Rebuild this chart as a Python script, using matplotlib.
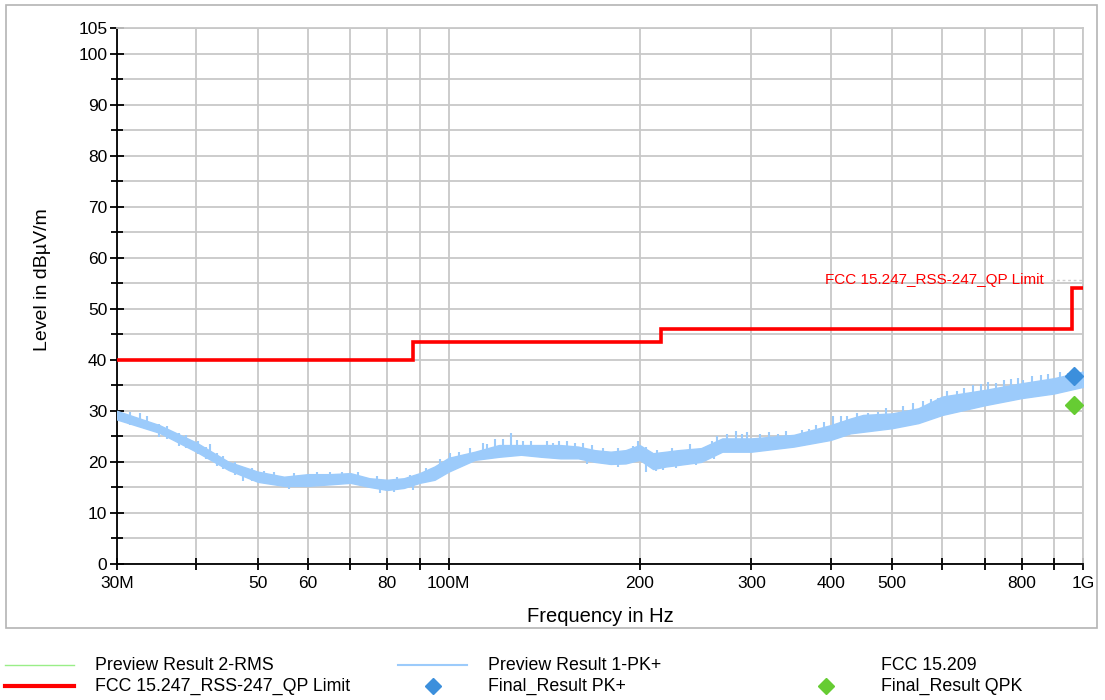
import numpy as np
import matplotlib
matplotlib.use("Agg")
import matplotlib.pyplot as plt
from matplotlib.lines import Line2D
from matplotlib.patches import Rectangle
from matplotlib.ticker import FixedLocator, FixedFormatter, NullLocator

plt.rcParams["font.family"] = ["Liberation Sans", "DejaVu Sans"]

# --- dados do ensaio (frequencia em MHz, nivel em dBuV/m) ---
# envoltoria do trace "Preview Result 1-PK+"
pk_freq = [30, 35, 40, 45, 50, 55, 60, 65, 70, 75, 80, 85, 90, 95, 100,
           110, 120, 130, 140, 150, 160, 170, 180, 190, 200, 210, 220, 230,
           250, 270, 300, 350, 400, 430, 450, 500, 550, 600, 700, 800, 900, 1000]
pk_min = [28.3, 25.7, 22.0, 18.4, 16.1, 15.3, 15.3, 15.6, 15.9, 15.1, 14.5, 14.9,
          15.9, 16.5, 18.1, 20.4, 21.0, 21.4, 21.0, 20.7, 20.7, 20.0, 19.6, 19.7,
          20.4, 18.6, 19.1, 19.4, 20.0, 22.0, 22.0, 23.0, 24.3, 25.6, 25.9, 26.6,
          27.6, 29.2, 31.1, 32.5, 33.4, 34.7]
pk_max = [30.0, 27.2, 23.8, 20.0, 18.1, 17.1, 17.6, 17.6, 17.8, 16.8, 16.5, 16.8,
          17.8, 19.1, 20.8, 22.0, 23.3, 23.3, 23.3, 23.3, 23.0, 22.3, 22.0, 22.3,
          23.3, 21.7, 22.0, 22.3, 22.7, 24.6, 24.6, 25.3, 27.2, 28.5, 29.2, 29.5,
          30.5, 32.8, 34.1, 35.4, 36.4, 37.7]

# picos do trace PK+ acima da envoltoria
spike_freq = [31.5, 32.6, 33.5, 34.9, 36, 37.6, 38.5, 40.2, 41.5, 43.2, 44, 46,
              47.4, 49, 51.2, 53, 57, 62, 65, 68.0, 72, 77, 83, 87, 92, 97,
              100.5, 104, 108, 113.3, 115, 118.5, 122, 125.2, 128, 131, 135,
              143, 146, 149.4, 153.4, 158, 163, 168, 175, 185, 195, 199, 205,
              213, 225, 240, 260, 265, 275, 283.7, 290, 295.6, 310, 320, 330,
              340, 360, 370, 380, 390, 404, 415, 425, 440, 458.7, 475.7, 490,
              520, 540, 560, 575, 590, 610, 632, 650, 670, 690, 707.7, 730,
              750, 770, 790, 805, 830, 860, 880, 920, 948, 980]
spike_top = [29.8, 29.6, 29.0, 27.4, 27.0, 25.6, 25.3, 24.0, 23.0, 21.7, 21.2,
             20.0, 18.7, 18.8, 18.3, 18.0, 17.8, 18.0, 18.0, 18.1, 18.0, 17.2,
             17.0, 17.5, 18.8, 20.5, 21.7, 22.0, 22.8, 23.8, 23.5, 24.4, 24.5,
             25.6, 24.2, 24.0, 24.0, 24.0, 23.8, 24.0, 24.0, 23.8, 23.8, 23.3,
             22.8, 22.8, 23.2, 24.0, 23.0, 22.3, 22.8, 23.5, 24.0, 25.0, 25.5,
             26.1, 25.5, 25.9, 25.5, 25.8, 25.5, 26.0, 26.3, 26.5, 27.3, 27.8,
             28.9, 29.0, 29.0, 29.5, 29.5, 29.8, 30.5, 31.0, 31.5, 32.0, 32.3,
             32.5, 33.8, 33.8, 34.5, 35.0, 35.2, 35.7, 35.5, 36.0, 36.2, 36.5,
             36.0, 36.8, 37.0, 37.2, 37.6, 37.4, 38.0]

# quedas do trace PK+ abaixo da envoltoria
dip_freq = [42, 56, 78, 82, 88, 165, 185, 205, 212, 218, 228, 245, 262]
dip_bottom = [21.0, 14.6, 14.0, 14.2, 14.5, 19.5, 19.0, 18.0, 18.2, 18.5,
              18.8, 19.4, 20.5]

# limite FCC 15.247 / RSS-247 (QP)
lim_edges = [30, 88, 216, 960, 1000]
lim_level = [40, 43.5, 46, 54]

# resultados finais
final_pk_freq, final_pk_level = [968], [36.8]
final_qpk_freq, final_qpk_level = [968], [31.1]

x_ticks = [30, 40, 50, 60, 70, 80, 90, 100, 200, 300, 400, 500, 600, 700, 800, 900, 1000]
x_labels = ["30M", "", "50", "60", "", "80", "", "100M", "200", "300", "400",
            "500", "", "", "800", "", "1G"]
y_ticks = [0, 10, 20, 30, 40, 50, 60, 70, 80, 90, 100, 105]
y_minor = [5, 15, 25, 35, 45, 55, 65, 75, 85, 95]

COR_PK = "#9ccbfb"
COR_LIM = "#ff0000"
COR_GRADE = "#c8c8c8"

W, H = 1105, 700
fig = plt.figure(figsize=(W / 100, H / 100), dpi=100)
ax = fig.add_axes([117 / W, 1 - 564 / H, (1083 - 117) / W, (564 - 28) / H])

# moldura externa
fig.add_artist(Rectangle((6 / W, 1 - 628 / H), (1097 - 6) / W, (628 - 5) / H,
                         transform=fig.transFigure, fill=False,
                         edgecolor="#b4b4b4", linewidth=1.2))

f_mhz = np.array(pk_freq) * 1e6
ax.fill_between(f_mhz, pk_min, pk_max, color=COR_PK, linewidth=1,
                edgecolor=COR_PK, zorder=3)
top = np.array(spike_top)
ax.vlines(np.array(spike_freq) * 1e6, top - 2.5, top, color=COR_PK,
          linewidth=1.5, zorder=3)
bot = np.array(dip_bottom)
ax.vlines(np.array(dip_freq) * 1e6, bot, bot + 2.5, color=COR_PK,
          linewidth=1.5, zorder=3)

ax.stairs(lim_level, np.array(lim_edges) * 1e6, color=COR_LIM, linewidth=2.6,
          baseline=None, zorder=4)
ax.text(392e6, 55.6, "FCC 15.247_RSS-247_QP Limit", color=COR_LIM,
        fontsize=11, va="center", ha="left", zorder=5)
ax.plot([890e6, 1000e6], [55.6, 55.6], color="#d0d0d0", linewidth=1,
        linestyle=(0, (2, 2)), zorder=2)

ax.plot(np.array(final_pk_freq) * 1e6, final_pk_level, "D", color="#3c8fdc",
        markersize=9, zorder=6)
ax.plot(np.array(final_qpk_freq) * 1e6, final_qpk_level, "D", color="#66cc33",
        markersize=9, zorder=6)

ax.set_xscale("log")
ax.set_xlim(30e6, 1000e6)
ax.set_ylim(0, 105)
ax.xaxis.set_major_locator(FixedLocator(np.array(x_ticks) * 1e6))
ax.xaxis.set_major_formatter(FixedFormatter(x_labels))
ax.xaxis.set_minor_locator(NullLocator())
ax.yaxis.set_major_locator(FixedLocator(y_ticks))
ax.yaxis.set_minor_locator(FixedLocator(y_minor))

ax.grid(True, which="both", color=COR_GRADE, linewidth=1.3, zorder=0)
ax.set_axisbelow(True)
for lado in ("top", "right"):
    ax.spines[lado].set_color(COR_GRADE)
    ax.spines[lado].set_linewidth(1.3)
for lado in ("left", "bottom"):
    ax.spines[lado].set_color("black")
    ax.spines[lado].set_linewidth(1.3)

ax.tick_params(axis="both", which="both", direction="inout", color="black",
               width=1.3, labelsize=12.5, pad=2)
ax.tick_params(axis="y", which="major", length=10)
ax.tick_params(axis="y", which="minor", length=9)
ax.tick_params(axis="x", which="major", length=9, pad=4)

ax.set_xlabel("Frequency in Hz", fontsize=14.5, labelpad=12)
ax.set_ylabel("Level in dBµV/m", fontsize=14, labelpad=18)
ax.yaxis.set_label_coords(-0.068, 0.53)

# legenda montada a mao, em tres colunas
def item_linha(x0, x1, y, cor, lw):
    fig.add_artist(Line2D([x0 / W, x1 / W], [1 - y / H, 1 - y / H],
                          transform=fig.transFigure, color=cor, linewidth=lw))

def item_marca(x, y, cor):
    fig.add_artist(Line2D([x / W], [1 - y / H], transform=fig.transFigure,
                          marker="D", markersize=8, color=cor, linestyle="none"))

def item_texto(x, y, s):
    fig.text(x / W, 1 - y / H, s, fontsize=12.8, va="center", ha="left")

item_linha(5, 74, 665, "#99ee88", 1)
item_texto(95, 665, "Preview Result 2-RMS")
item_linha(5, 74, 686, COR_LIM, 3)
item_texto(95, 686, "FCC 15.247_RSS-247_QP Limit")
item_linha(398, 467, 665, COR_PK, 1.5)
item_texto(488, 665, "Preview Result 1-PK+")
item_marca(433, 686, "#3c8fdc")
item_texto(488, 686, "Final_Result PK+")
item_texto(881, 665, "FCC 15.209")
item_marca(826, 686, "#66cc33")
item_texto(881, 686, "Final_Result QPK")

fig.savefig("out.png", dpi=100)
